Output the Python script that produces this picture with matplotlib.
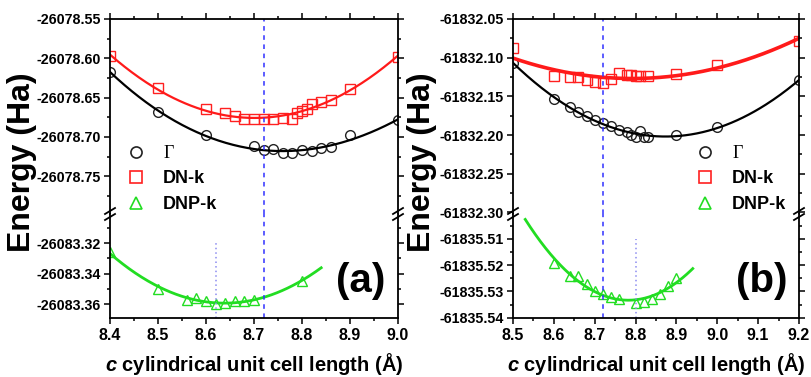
import numpy as np
import matplotlib
matplotlib.use('Agg')
import matplotlib.pyplot as plt
from matplotlib.ticker import MultipleLocator, FormatStrFormatter
from matplotlib.lines import Line2D

plt.rcParams['font.family'] = ['Liberation Sans', 'DejaVu Sans']
plt.rcParams['font.weight'] = 'bold'
plt.rcParams['axes.unicode_minus'] = False
plt.rcParams['mathtext.fontset'] = 'custom'
plt.rcParams['mathtext.it'] = 'Liberation Sans:italic:bold'

# ---- panel (a) ----
a_gam_x = [8.40, 8.50, 8.60, 8.70, 8.72, 8.74, 8.76, 8.78, 8.80, 8.82, 8.84, 8.86, 8.90, 9.00]
a_gam_y = [-26078.617, -26078.668, -26078.698, -26078.712, -26078.717, -26078.715, -26078.720,
           -26078.721, -26078.717, -26078.718, -26078.714, -26078.713, -26078.697, -26078.679]
a_dn_x = [8.40, 8.50, 8.60, 8.64, 8.66, 8.68, 8.70, 8.72, 8.74, 8.76, 8.78, 8.79, 8.80, 8.81,
          8.82, 8.84, 8.86, 8.90, 9.00]
a_dn_y = [-26078.597, -26078.638, -26078.664, -26078.670, -26078.673, -26078.677, -26078.677,
          -26078.677, -26078.677, -26078.676, -26078.677, -26078.670, -26078.667, -26078.664,
          -26078.658, -26078.655, -26078.653, -26078.639, -26078.598]
a_dnp_x = [8.40, 8.50, 8.56, 8.58, 8.60, 8.62, 8.64, 8.66, 8.68, 8.70, 8.80]
a_dnp_y = [-26083.326, -26083.350, -26083.357, -26083.356, -26083.358, -26083.360, -26083.359,
           -26083.358, -26083.358, -26083.357, -26083.345]
a_fit_range = {'gam': (8.40, 9.00), 'dn': (8.40, 9.00), 'dnp': (8.40, 8.84)}
a_xlim = (8.4, 9.0)
a_ylim_top = (-26078.798, -26078.55)
a_ylim_bot = (-26083.369, -26083.301)
a_dash_x = 8.72
a_dot_x, a_dot_top = 8.62, -26083.32

# ---- panel (b) ----
b_gam_x = [8.50, 8.60, 8.64, 8.66, 8.68, 8.70, 8.72, 8.74, 8.76, 8.78, 8.79, 8.80, 8.81,
           8.82, 8.83, 8.90, 9.00, 9.20]
b_gam_y = [-61832.107, -61832.153, -61832.164, -61832.170, -61832.175, -61832.180, -61832.185,
           -61832.188, -61832.193, -61832.196, -61832.200, -61832.202, -61832.195, -61832.202,
           -61832.203, -61832.200, -61832.190, -61832.129]
b_dn_x = [8.50, 8.60, 8.64, 8.66, 8.68, 8.70, 8.72, 8.74, 8.76, 8.78, 8.79, 8.80, 8.81, 8.83,
          8.90, 9.00, 9.20]
b_dn_y = [-61832.087, -61832.124, -61832.125, -61832.125, -61832.129, -61832.131, -61832.133,
          -61832.127, -61832.120, -61832.122, -61832.123, -61832.124, -61832.124, -61832.124,
          -61832.121, -61832.110, -61832.079]
b_dnp_x = [8.60, 8.64, 8.66, 8.68, 8.70, 8.72, 8.74, 8.76, 8.80, 8.82, 8.84, 8.86, 8.88, 8.90]
b_dnp_y = [-61835.519, -61835.524, -61835.524, -61835.527, -61835.530, -61835.531, -61835.532,
           -61835.533, -61835.5345, -61835.534, -61835.533, -61835.531, -61835.528, -61835.525]
b_fit_range = {'gam': (8.50, 9.20), 'dn': (8.50, 9.20), 'dnp': (8.53, 8.94)}
b_xlim = (8.5, 9.2)
b_ylim_top = (-61832.302, -61832.05)
b_ylim_bot = (-61835.5401, -61835.5005)
b_dash_x = 8.72
b_dot_x, b_dot_top = 8.80, -61835.51

labels = ['\u0393', 'DN-k', 'DNP-k']
xlabel = r'$c$ cylindrical unit cell length (Å)'

W, H = 811, 377
fig = plt.figure(figsize=(W / 100, H / 100), dpi=100)


def fx(px):
    return px / W


def fy(py):
    return 1 - py / H


def style(ax, xlim, ylim, ymaj, ymin, top):
    ax.set_xlim(*xlim)
    ax.set_ylim(*ylim)
    ax.xaxis.set_major_locator(MultipleLocator(0.1))
    ax.xaxis.set_minor_locator(MultipleLocator(0.05))
    ax.yaxis.set_major_locator(MultipleLocator(ymaj))
    ax.yaxis.set_minor_locator(MultipleLocator(ymin))
    ax.yaxis.set_major_formatter(FormatStrFormatter('%.2f'))
    ax.xaxis.set_major_formatter(FormatStrFormatter('%.1f'))
    for s in ax.spines.values():
        s.set_linewidth(1.3)
    if top:
        ax.spines['bottom'].set_visible(False)
        ax.tick_params(axis='x', which='both', bottom=False, labelbottom=False, top=True)
    else:
        ax.spines['top'].set_visible(False)
        ax.tick_params(axis='x', which='both', top=False, bottom=True)
    ax.tick_params(axis='y', which='both', left=True, right=True)
    ax.tick_params(which='both', direction='out', width=1.1)
    ax.tick_params(which='major', length=4.5)
    ax.tick_params(which='minor', length=2.5)
    ax.tick_params(axis='y', labelsize=10.3, pad=2)
    ax.tick_params(axis='x', labelsize=11.5, pad=3)


def fit(x, y, rng, deg):
    c = np.polyfit(x, y, deg)
    xs = np.linspace(rng[0], rng[1], 200)
    return xs, np.polyval(c, xs)


def panel(left, right, top_px, brk_px, bot_px, d, name):
    axt = fig.add_axes([fx(left), fy(brk_px), fx(right - left), (brk_px - top_px) / H])
    axb = fig.add_axes([fx(left), fy(bot_px), fx(right - left), (bot_px - brk_px) / H])
    mk = dict(ls='none', mfc='none', ms=7, mew=1.0)
    axt.plot(d['gam_x'], d['gam_y'], marker='o', mec='#222222', **mk)
    axt.plot(d['dn_x'], d['dn_y'], marker='s', mec='#ff2020', **mk)
    axb.plot(d['dnp_x'], d['dnp_y'], marker='^', mec='#22dd22', **mk)
    xs, ys = fit(d['gam_x'], d['gam_y'], d['rng']['gam'], d['deg'][0])
    axt.plot(xs, ys, color='black', lw=1.6)
    xs, ys = fit(d['dn_x'], d['dn_y'], d['rng']['dn'], d['deg'][1])
    axt.plot(xs, ys, color='#ff1a1a', lw=d['red_lw'])
    xs, ys = fit(d['dnp_x'], d['dnp_y'], d['rng']['dnp'], d['deg'][2])
    axb.plot(xs, ys, color='#22dd22', lw=2.0)
    for ax in (axt, axb):
        ax.axvline(d['dash'], color='#3030ff', ls=(0, (3, 3)), lw=1.1)
    axb.vlines(d['dot'][0], d['ylim_bot'][0], d['dot'][1], color='#8c8cf0', ls=(0, (1, 2)), lw=1.1)
    style(axt, d['xlim'], d['ylim_top'], 0.05, 0.025, True)
    style(axb, d['xlim'], d['ylim_bot'], d['bot_maj'], d['bot_maj'] / 2, False)
    # break marks
    for xp in (left, right):
        for dy in (-3, 3):
            fig.add_artist(Line2D([fx(xp - 5), fx(xp + 5)], [fy(brk_px + dy + 3), fy(brk_px + dy - 3)],
                                  color='black', lw=1.3))
    # panel letter and labels
    fig.text(fx(right - 37), fy(281), name, fontsize=29, weight='bold', ha='center', va='center')
    fig.text(fx((left + right) / 2), fy(364), xlabel, fontsize=14.5, weight='bold', ha='center', va='center')
    fig.text(fx(d['ylab_x']), fy(162), 'Energy (Ha)', rotation=90, fontsize=23, weight='bold',
             ha='center', va='center')
    handles = [Line2D([], [], ls='none', marker='o', mfc='none', mec='#222222', ms=8, mew=1.2),
               Line2D([], [], ls='none', marker='s', mfc='none', mec='#ff2020', ms=8, mew=1.2),
               Line2D([], [], ls='none', marker='^', mfc='none', mec='#22dd22', ms=9, mew=1.2)]
    leg = fig.legend(handles, labels, loc='upper left', bbox_to_anchor=(fx(d['leg_x']), fy(145)),
                     frameon=False, handlelength=1.0, handletextpad=1.0,
                     borderpad=0, borderaxespad=0, labelspacing=0.47, prop={'weight': 'bold', 'size': 13})
    leg.get_texts()[0].set_fontfamily(['Liberation Serif', 'DejaVu Serif'])
    leg.get_texts()[0].set_fontweight('normal')


da = dict(gam_x=a_gam_x, gam_y=a_gam_y, dn_x=a_dn_x, dn_y=a_dn_y, dnp_x=a_dnp_x, dnp_y=a_dnp_y,
          rng=a_fit_range, deg=(3, 2, 2), red_lw=1.6, dash=a_dash_x, dot=(a_dot_x, a_dot_top),
          xlim=a_xlim, ylim_top=a_ylim_top, ylim_bot=a_ylim_bot, bot_maj=0.02, ylab_x=22, leg_x=127)
db = dict(gam_x=b_gam_x, gam_y=b_gam_y, dn_x=b_dn_x, dn_y=b_dn_y, dnp_x=b_dnp_x, dnp_y=b_dnp_y,
          rng=b_fit_range, deg=(2, 2, 2), red_lw=2.6, dash=b_dash_x, dot=(b_dot_x, b_dot_top),
          xlim=b_xlim, ylim_top=b_ylim_top, ylim_bot=b_ylim_bot, bot_maj=0.01, ylab_x=422, leg_x=696)

panel(110, 398, 19, 214, 318, da, '(a)')
panel(513, 799, 19, 214, 318, db, '(b)')

fig.savefig('out.png', dpi=100)
